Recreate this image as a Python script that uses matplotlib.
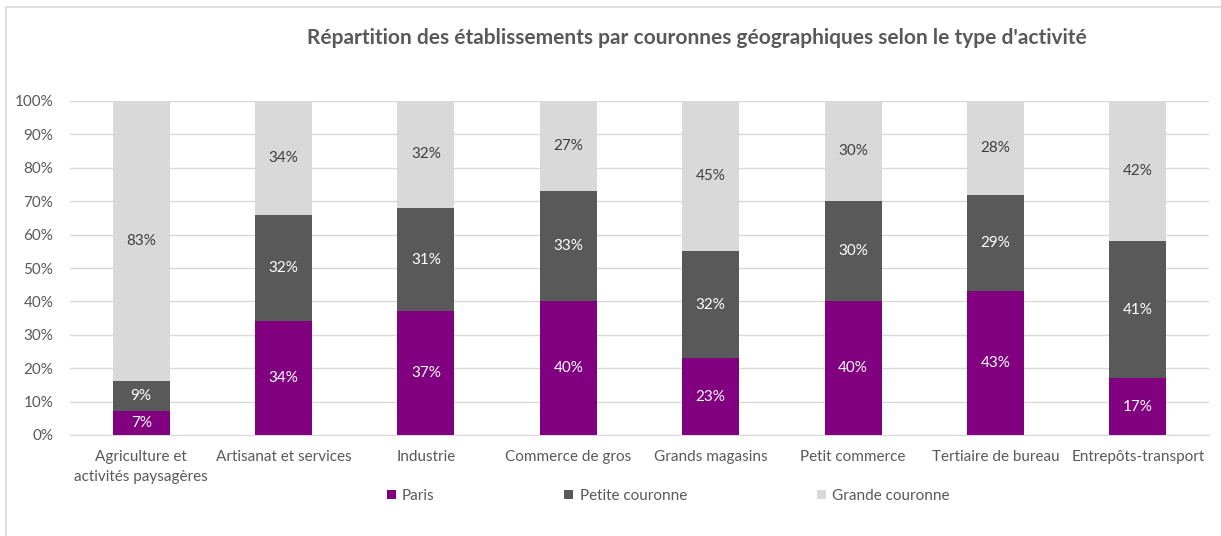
import matplotlib
matplotlib.use("Agg")
import matplotlib.pyplot as plt
from matplotlib.patches import Rectangle
import numpy as np

categories = ["Agriculture et\nactivités paysagères", "Artisanat et services", "Industrie",
              "Commerce de gros", "Grands magasins", "Petit commerce",
              "Tertiaire de bureau", "Entrepôts-transport"]
series_names = ["Paris", "Petite couronne", "Grande couronne"]
paris = [7, 34, 37, 40, 23, 40, 43, 17]
petite = [9, 32, 31, 33, 32, 30, 29, 41]
grande = [83, 34, 32, 27, 45, 30, 28, 42]
colors = ["#800080", "#595959", "#D9D9D9"]
label_colors = ["white", "white", "#404040"]
title = "Répartition des établissements par couronnes géographiques selon le type d'activité"
yticks = [0, 10, 20, 30, 40, 50, 60, 70, 80, 90, 100]

plt.rcParams['font.family'] = ['Lato', 'DejaVu Sans']

W, H = 1221, 536
fig = plt.figure(figsize=(W/100, H/100), dpi=100)
fig.patches.append(Rectangle((6/W, -0.1), 1.2, 1 - 7/H + 0.1, transform=fig.transFigure,
                             fill=False, edgecolor="#D9D9D9", lw=1.2))
ax = fig.add_axes([70/W, 1 - 435/H, (1209-70)/W, (435-101)/H])

data = np.array([paris, petite, grande], dtype=float)
totals = data.sum(axis=0)
pct = data / totals * 100
x = np.arange(len(categories))
bottom = np.zeros(len(categories))
handles = []
for i, name in enumerate(series_names):
    b = ax.bar(x, pct[i], 0.4, bottom=bottom, color=colors[i], label=name, zorder=2)
    handles.append(b)
    for j in range(len(categories)):
        ax.text(x[j], bottom[j] + pct[i][j]/2, f"{int(data[i][j])}%", ha="center", va="center",
                color=label_colors[i], fontsize=11, zorder=3)
    bottom += pct[i]

ax.set_xlim(-0.5, len(categories) - 0.5)
ax.set_ylim(0, 100)
ax.set_yticks(yticks)
ax.set_yticklabels([f"{v}%" for v in yticks])
ax.set_xticks(x)
ax.set_xticklabels(categories, linespacing=1.5)
ax.tick_params(axis="both", length=0, colors="#595959", labelsize=11)
ax.tick_params(axis="y", pad=12)
ax.tick_params(axis="x", pad=11)
ax.yaxis.grid(True, color="#D9D9D9", lw=1, zorder=0)
ax.set_axisbelow(True)
for s in ["top", "right", "left"]:
    ax.spines[s].set_visible(False)
ax.spines["bottom"].set_color("#D9D9D9")
ax.spines["bottom"].set_zorder(1)

fig.text(697/W, 1 - 38/H, title, ha="center", va="center", fontsize=15,
         fontweight="bold", color="#595959")

leg = fig.legend(handles=handles, labels=series_names, loc="center",
                 bbox_to_anchor=(668/W, 1 - 496/H), ncol=3, frameon=False,
                 fontsize=11, labelcolor="#595959", handlelength=0.6, handleheight=0.6,
                 handletextpad=0.4, columnspacing=8.5)

fig.savefig("out.png", dpi=100)
